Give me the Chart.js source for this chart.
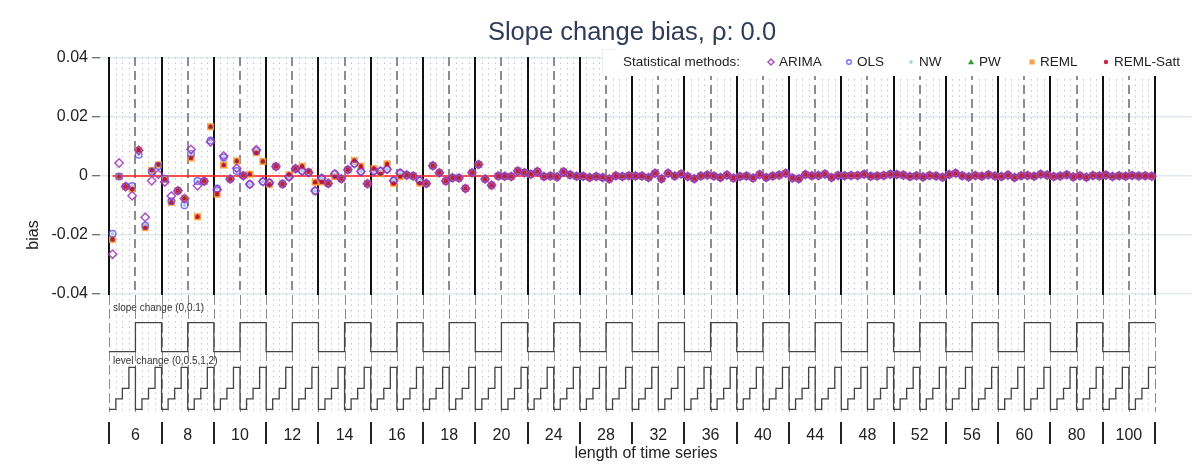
<!DOCTYPE html>
<html>
<head>
<meta charset="utf-8">
<script src="https://cdn.jsdelivr.net/npm/chart.js@4.4.1/dist/chart.umd.min.js"></script>
<style>
  body { margin: 0; background: #fff; }
  canvas { display: block; background: #fff; }
</style>
</head>
<body>
<canvas id="chart" width="1203" height="466"></canvas>
<script>
// design of the simulation: length x slope change x level change
const seriesLengths = [6, 8, 10, 12, 14, 16, 18, 20, 24, 28, 32, 36, 40, 44, 48, 52, 56, 60, 80, 100]
const slopeChange = [0, 0.1]
const levelChange = [0, 0.5, 1, 2]
const yTicks = [-0.04, -0.02, 0, 0.02, 0.04]

// bias per design cell (one line per series length)
const remlBias = [
  -0.0215, -0.0002, -0.0036, -0.0044, 0.0088, -0.0175, 0.0019, 0.0038,
  -0.0011, -0.0089, -0.0050, -0.0076, 0.0061, -0.0138, -0.0018, 0.0167,
  -0.0062, 0.0037, -0.0010, 0.0051, 0.0002, 0.0006, 0.0079, 0.0049,
  -0.0028, 0.0032, -0.0027, 0.0004, 0.0025, 0.0033, 0.0014, -0.0021,
  -0.0020, -0.0025, -0.0002, -0.0009, 0.0021, 0.0052, 0.0033, -0.0026,
  0.0025, 0.0008, 0.0041, -0.0025, -0.0002, 0.0003, 0.0000, -0.0024,
  -0.0025, 0.0035, 0.0011, -0.0017, -0.0006, -0.0007, -0.0042, 0.0011,
  0.0039, -0.0010, -0.0031, 0.0000, -0.0001, -0.0002, 0.0017, 0.0011,
  0.0006, 0.0015, -0.0002, 0.0000, -0.0003, 0.0014, 0.0004, -0.0001,
  -0.0001, -0.0005, -0.0002, -0.0005, -0.0010, 0.0001, -0.0002, 0.0001,
  0.0000, 0.0000, -0.0005, 0.0009, -0.0009, 0.0009, 0.0000, 0.0007,
  -0.0002, -0.0009, 0.0000, 0.0003, 0.0000, -0.0005, 0.0003, -0.0007,
  -0.0002, 0.0000, -0.0007, 0.0005, -0.0005, 0.0000, 0.0003, 0.0009,
  -0.0007, -0.0009, 0.0005, 0.0001, 0.0002, 0.0007, -0.0005, 0.0002,
  0.0001, 0.0002, 0.0002, 0.0006, -0.0001, 0.0000, 0.0002, 0.0006,
  0.0005, 0.0003, -0.0002, 0.0001, -0.0003, 0.0002, 0.0000, -0.0004,
  0.0005, 0.0009, 0.0001, -0.0003, 0.0002, -0.0001, 0.0004, 0.0000,
  -0.0002, 0.0003, -0.0005, 0.0001, 0.0002, -0.0001, 0.0006, 0.0003,
  -0.0002, 0.0000, 0.0004, -0.0003, 0.0001, -0.0004, 0.0002, 0.0000,
  0.0003, -0.0002, 0.0001, -0.0001, 0.0002, 0.0000, 0.0001, -0.0001
]

const olsBias = [
  -0.0196, -0.0002, -0.0036, -0.0034, 0.0072, -0.0169, 0.0015, 0.0034,
  -0.0009, -0.0086, -0.0050, -0.0099, 0.0075, -0.0017, -0.0018, 0.0120,
  -0.0042, 0.0063, -0.0010, 0.0017, 0.0002, -0.0028, 0.0085, -0.0019,
  -0.0023, 0.0032, -0.0027, -0.0003, 0.0025, 0.0017, 0.0012, -0.0050,
  -0.0008, -0.0025, 0.0007, -0.0009, 0.0021, 0.0042, 0.0015, -0.0026,
  0.0017, 0.0017, 0.0023, -0.0016, 0.0010, 0.0003, 0.0000, -0.0016,
  -0.0025, 0.0035, 0.0011, -0.0017, -0.0006, -0.0007, -0.0042, 0.0011,
  0.0039, -0.0010, -0.0031, 0.0000, -0.0001, -0.0002, 0.0017, 0.0011,
  0.0006, 0.0015, -0.0002, 0.0000, -0.0003, 0.0014, 0.0004, -0.0001,
  -0.0001, -0.0005, -0.0002, -0.0005, -0.0010, 0.0001, -0.0002, 0.0001,
  0.0000, 0.0000, -0.0005, 0.0009, -0.0009, 0.0009, 0.0000, 0.0007,
  -0.0002, -0.0009, 0.0000, 0.0003, 0.0000, -0.0005, 0.0003, -0.0007,
  -0.0002, 0.0000, -0.0007, 0.0005, -0.0005, 0.0000, 0.0003, 0.0009,
  -0.0007, -0.0009, 0.0005, 0.0001, 0.0002, 0.0007, -0.0005, 0.0002,
  0.0001, 0.0002, 0.0002, 0.0006, -0.0001, 0.0000, 0.0002, 0.0006,
  0.0005, 0.0003, -0.0002, 0.0001, -0.0003, 0.0002, 0.0000, -0.0004,
  0.0005, 0.0009, 0.0001, -0.0003, 0.0002, -0.0001, 0.0004, 0.0000,
  -0.0002, 0.0003, -0.0005, 0.0001, 0.0002, -0.0001, 0.0006, 0.0003,
  -0.0002, 0.0000, 0.0004, -0.0003, 0.0001, -0.0004, 0.0002, 0.0000,
  0.0003, -0.0002, 0.0001, -0.0001, 0.0002, 0.0000, 0.0001, -0.0001
]

const arimaBias = [
  -0.0265, 0.0044, -0.0036, -0.0067, 0.0087, -0.0140, -0.0016, 0.0006,
  -0.0020, -0.0068, -0.0050, -0.0076, 0.0090, -0.0033, -0.0018, 0.0115,
  -0.0047, 0.0068, -0.0010, 0.0026, 0.0001, -0.0028, 0.0089, -0.0019,
  -0.0023, 0.0032, -0.0027, -0.0003, 0.0025, 0.0017, 0.0012, -0.0050,
  -0.0008, -0.0025, 0.0007, -0.0009, 0.0021, 0.0042, 0.0015, -0.0026,
  0.0017, 0.0017, 0.0023, -0.0016, 0.0010, 0.0003, 0.0000, -0.0016,
  -0.0025, 0.0035, 0.0011, -0.0017, -0.0006, -0.0007, -0.0042, 0.0011,
  0.0039, -0.0010, -0.0031, 0.0000, -0.0001, -0.0002, 0.0017, 0.0011,
  0.0006, 0.0015, -0.0002, 0.0000, -0.0003, 0.0014, 0.0004, -0.0001,
  -0.0001, -0.0005, -0.0002, -0.0005, -0.0010, 0.0001, -0.0002, 0.0001,
  0.0000, 0.0000, -0.0005, 0.0009, -0.0009, 0.0009, 0.0000, 0.0007,
  -0.0002, -0.0009, 0.0000, 0.0003, 0.0000, -0.0005, 0.0003, -0.0007,
  -0.0002, 0.0000, -0.0007, 0.0005, -0.0005, 0.0000, 0.0003, 0.0009,
  -0.0007, -0.0009, 0.0005, 0.0001, 0.0002, 0.0007, -0.0005, 0.0002,
  0.0001, 0.0002, 0.0002, 0.0006, -0.0001, 0.0000, 0.0002, 0.0006,
  0.0005, 0.0003, -0.0002, 0.0001, -0.0003, 0.0002, 0.0000, -0.0004,
  0.0005, 0.0009, 0.0001, -0.0003, 0.0002, -0.0001, 0.0004, 0.0000,
  -0.0002, 0.0003, -0.0005, 0.0001, 0.0002, -0.0001, 0.0006, 0.0003,
  -0.0002, 0.0000, 0.0004, -0.0003, 0.0001, -0.0004, 0.0002, 0.0000,
  0.0003, -0.0002, 0.0001, -0.0001, 0.0002, 0.0000, 0.0001, -0.0001
]

// NW shares the OLS estimates, PW / REML-Satt sit on the REML ones
const nwBias = olsBias
const pwBias = remlBias
const remlSattBias = remlBias

const FONT = '"Liberation Sans", Arial, sans-serif'
const perHalf = levelChange.length
const perCat = slopeChange.length * perHalf
const nCells = seriesLengths.length * perCat

// z: lower is drawn on top
const methods = [
  { label: 'ARIMA', data: arimaBias, style: 'rectRot', r: 4.2, fill: 'rgba(255,255,255,0)', stroke: 'rgba(160,50,180,0.85)', bw: 1.5, z: 1 },
  { label: 'OLS', data: olsBias, style: 'circle', r: 3.3, fill: 'rgba(255,255,255,0)', stroke: 'rgba(80,80,240,0.8)', bw: 1.4, z: 2 },
  { label: 'NW', data: nwBias, style: 'circle', r: 1.8, fill: '#a6cbf2', stroke: '#a6cbf2', bw: 0, z: 3 },
  { label: 'PW', data: pwBias, style: 'triangle', r: 3, fill: '#2e9e2e', stroke: '#2e9e2e', bw: 0, z: 4 },
  { label: 'REML', data: remlBias, style: 'rect', r: 5, fill: 'rgba(255,150,50,0.9)', stroke: 'rgba(255,150,50,0.9)', bw: 0, z: 5 },
  { label: 'REML-Satt', data: remlSattBias, style: 'circle', r: 2.2, fill: 'rgba(190,15,50,0.9)', stroke: 'rgba(190,15,50,0.9)', bw: 0, z: 0 }
]

function toPoints(values) {
  return values.map((v, i) => ({ x: i + 0.5, y: v }))
}

function slopeSteps() {
  const pts = []
  seriesLengths.forEach((n, c) => {
    slopeChange.forEach((s, k) => pts.push({ x: c * perCat + k * perHalf, y: s }))
  })
  pts.push({ x: nCells, y: slopeChange[slopeChange.length - 1] })
  return pts
}

function levelSteps() {
  const pts = []
  for (let h = 0; h < seriesLengths.length * slopeChange.length; h++) {
    levelChange.forEach((l, j) => pts.push({ x: h * perHalf + j, y: l }))
  }
  pts.push({ x: nCells, y: levelChange[levelChange.length - 1] })
  return pts
}

const datasets = methods.map(m => ({
  label: m.label,
  data: toPoints(m.data),
  pointStyle: m.style,
  pointRadius: m.r,
  pointBackgroundColor: m.fill,
  pointBorderColor: m.stroke,
  pointBorderWidth: m.bw,
  order: m.z
}))

datasets.push({
  type: 'line', label: 'zero', data: [{ x: 0.5, y: 0 }, { x: nCells - 0.5, y: 0 }],
  borderColor: '#ff1a1a', borderWidth: 1.6, pointRadius: 0, order: 20
})
datasets.push({
  type: 'line', label: 'slope', data: slopeSteps(), yAxisID: 'ySlope', stepped: true,
  borderColor: '#444', borderWidth: 1.3, pointRadius: 0, order: 21
})
datasets.push({
  type: 'line', label: 'level', data: levelSteps(), yAxisID: 'yLevel', stepped: true,
  borderColor: '#444', borderWidth: 1.3, pointRadius: 0, order: 22
})

function vline(ctx, x, y0, y1) {
  ctx.beginPath()
  ctx.moveTo(x, y0)
  ctx.lineTo(x, y1)
  ctx.stroke()
}

function drawMarker(ctx, style, x, y, m) {
  ctx.save()
  ctx.fillStyle = m.fill
  ctx.strokeStyle = m.stroke
  ctx.lineWidth = m.bw || 1
  ctx.beginPath()
  if (style === 'rectRot') {
    ctx.moveTo(x, y - 3); ctx.lineTo(x + 3, y); ctx.lineTo(x, y + 3); ctx.lineTo(x - 3, y); ctx.closePath()
    ctx.stroke()
  } else if (style === 'triangle') {
    ctx.moveTo(x, y - 3); ctx.lineTo(x + 3, y + 2.2); ctx.lineTo(x - 3, y + 2.2); ctx.closePath()
    ctx.fill()
  } else if (style === 'rect') {
    ctx.rect(x - 2.5, y - 2.5, 5, 5)
    ctx.fill()
  } else {
    ctx.arc(x, y, Math.min(m.r, 2.3), 0, Math.PI * 2)
    if (m.bw) ctx.stroke(); else ctx.fill()
  }
  ctx.restore()
}

const loopDecor = {
  id: 'loopDecor',
  beforeDatasetsDraw(chart) {
    const { ctx, chartArea, scales: { x, y } } = chart
    const yTop = y.getPixelForValue(yTicks[yTicks.length - 1]) - 1
    const yMid = y.getPixelForValue(yTicks[0]) + 1
    const yBot = chartArea.bottom
    ctx.save()
    // dotted lines between level change cells
    ctx.strokeStyle = '#c6c6c6'
    ctx.lineWidth = 1
    ctx.setLineDash([1.5, 4])
    for (let k = 0; k <= nCells; k++) {
      if (k % perHalf === 0) continue
      vline(ctx, Math.round(x.getPixelForValue(k)) + 0.5, yTop, yBot)
    }
    // dashed lines between slope halves in the design panel
    ctx.strokeStyle = '#8a8a8a'
    ctx.setLineDash([10, 4])
    for (let k = 0; k <= nCells; k += perHalf) {
      vline(ctx, Math.round(x.getPixelForValue(k)) + 0.5, yMid, yBot)
    }
    // dashed slope boundaries inside the bias panel
    ctx.strokeStyle = '#8c8c8c'
    ctx.lineWidth = 2
    ctx.setLineDash([9, 5])
    for (let c = 0; c < seriesLengths.length; c++) {
      vline(ctx, Math.round(x.getPixelForValue(c * perCat + perHalf)), yTop, yMid)
    }
    // solid series length boundaries
    ctx.strokeStyle = '#111'
    ctx.setLineDash([])
    for (let c = 0; c <= seriesLengths.length; c++) {
      vline(ctx, Math.round(x.getPixelForValue(c * perCat)), yTop, yMid)
    }
    ctx.restore()
  },
  afterDatasetsDraw(chart) {
    const { ctx, chartArea, scales: { x } } = chart
    ctx.save()
    ctx.fillStyle = '#222'
    ctx.textBaseline = 'middle'

    // design panel captions
    ctx.font = '10px ' + FONT
    ctx.textAlign = 'left'
    ctx.fillStyle = '#333'
    ctx.fillText('slope change (0,0.1)', 113, 308)
    ctx.fillText('level change (0,0.5,1,2)', 113, 361)

    // x axis: separators and series length labels
    ctx.strokeStyle = '#222'
    ctx.lineWidth = 2
    for (let c = 0; c <= seriesLengths.length; c++) {
      vline(ctx, Math.round(x.getPixelForValue(c * perCat)), 422, 444)
    }
    ctx.fillStyle = '#222'
    ctx.font = '16px ' + FONT
    ctx.textAlign = 'center'
    seriesLengths.forEach((n, c) => {
      ctx.fillText(String(n), x.getPixelForValue(c * perCat + perHalf), 436)
    })
    ctx.font = '16px ' + FONT
    ctx.fillText('length of time series', (chartArea.left + chartArea.right) / 2, 454)

    // title
    ctx.fillStyle = '#2f3b57'
    ctx.font = '25.5px ' + FONT
    ctx.fillText('Slope change bias, ρ: 0.0', 632, 33)

    // legend
    ctx.fillStyle = '#fff'
    ctx.fillRect(602, 49, 590, 27)
    ctx.strokeStyle = '#eeeeee'
    ctx.lineWidth = 1
    ctx.beginPath()
    ctx.moveTo(602.5, 75.5); ctx.lineTo(602.5, 49.5); ctx.lineTo(616, 49.5)
    ctx.stroke()
    ctx.fillStyle = '#222'
    ctx.font = '13.5px ' + FONT
    ctx.textAlign = 'left'
    ctx.fillText('Statistical methods:', 623, 62)
    const markerX = [771, 849, 911, 971, 1032, 1106]
    methods.forEach((m, i) => {
      drawMarker(ctx, m.style, markerX[i], 62, m)
      ctx.fillStyle = '#222'
      ctx.fillText(m.label, markerX[i] + 8, 62)
    })
    ctx.restore()
  }
}

Chart.defaults.font.family = FONT

new Chart(document.getElementById('chart'), {
  type: 'scatter',
  data: { datasets },
  options: {
    responsive: false,
    animation: false,
    events: [],
    layout: { padding: { top: 58, right: 11, bottom: 54, left: 0 } },
    plugins: { legend: { display: false }, tooltip: { enabled: false } },
    scales: {
      x: { type: 'linear', display: false, min: -1.42, max: 165.66 },
      y: {
        type: 'linear', position: 'left', min: -0.08, max: 0.04,
        afterBuildTicks: s => { s.ticks = yTicks.map(v => ({ value: v })) },
        afterFit: s => { s.width = 100 },
        ticks: {
          callback: v => v === 0 ? '0' : v.toFixed(2),
          font: { size: 16 }, color: '#222', padding: 4
        },
        grid: { color: '#e3eaef', lineWidth: 1.5, tickColor: '#444', tickLength: 8, tickWidth: 1 },
        border: { display: false },
        title: { display: true, text: 'bias', font: { size: 16 }, color: '#222', padding: { top: 24, bottom: 0 } }
      },
      ySlope: { type: 'linear', display: false, min: -0.208, max: 1.013 },
      yLevel: { type: 'linear', display: false, min: -0.1286, max: 16.73 }
    }
  },
  plugins: [loopDecor]
})
</script>
</body>
</html>
